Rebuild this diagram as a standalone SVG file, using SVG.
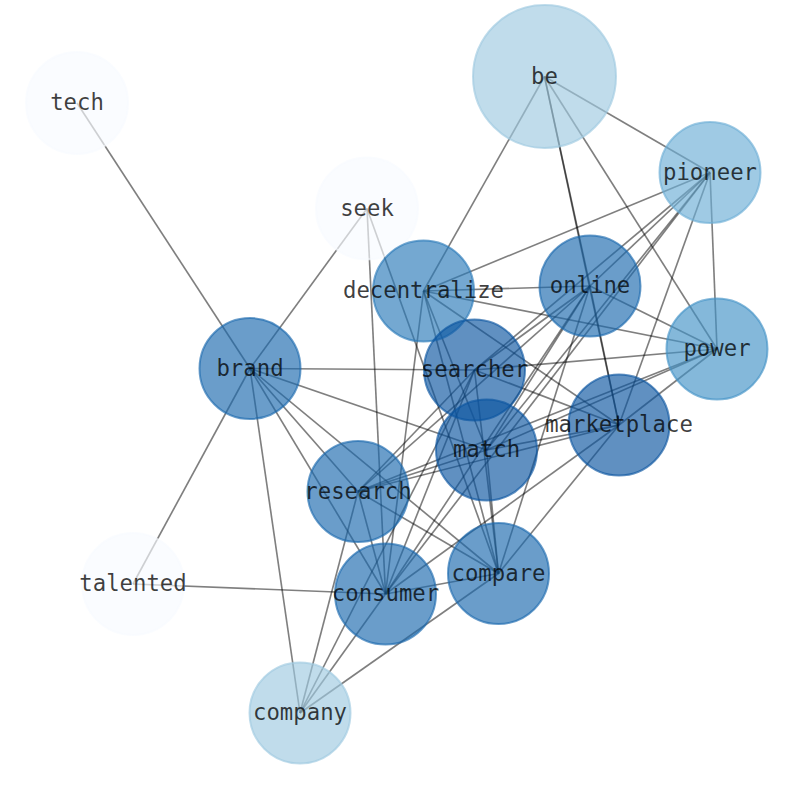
<svg xmlns="http://www.w3.org/2000/svg" width="794" height="790" viewBox="0 0 794 790">
<style>
.e line{stroke:#000;stroke-opacity:0.5;stroke-width:1.65}
.n circle{fill-opacity:0.65;stroke-opacity:0.65;stroke-width:2}
.n text{font-family:"DejaVu Sans Mono",monospace;font-size:22.3px;fill:#000;fill-opacity:0.75;text-anchor:middle}
.c0{fill:#f7fbff;stroke:#f7fbff}
.c1{fill:#9ecae1;stroke:#9ecae1}
.c2{fill:#6baed6;stroke:#6baed6}
.c3{fill:#4292c6;stroke:#4292c6}
.c4{fill:#2a7ab9;stroke:#2a7ab9}
.c5{fill:#1a68ae;stroke:#1a68ae}
.c6{fill:#0b559f;stroke:#0b559f}
</style>
<rect width="794" height="790" fill="#fff"/>
<g class="e" id="edges">
<line x1="77" y1="103" x2="250" y2="368.5"/>
<line x1="133" y1="584" x2="250" y2="368.5"/>
<line x1="133" y1="584" x2="385.5" y2="594"/>
<line x1="367" y1="208.5" x2="250" y2="368.5"/>
<line x1="367" y1="208.5" x2="385.5" y2="594"/>
<line x1="367" y1="208.5" x2="498.5" y2="573.5"/>
<line x1="544.5" y1="76.5" x2="423.5" y2="291"/>
<line x1="544.5" y1="76.5" x2="590" y2="286"/>
<line x1="544.5" y1="76.5" x2="619" y2="425"/>
<line x1="544.5" y1="76.5" x2="717" y2="349"/>
<line x1="544.5" y1="76.5" x2="710" y2="172.5"/>
<line x1="710" y1="172.5" x2="423.5" y2="291"/>
<line x1="710" y1="172.5" x2="590" y2="286"/>
<line x1="710" y1="172.5" x2="474.5" y2="370"/>
<line x1="710" y1="172.5" x2="486.5" y2="450"/>
<line x1="710" y1="172.5" x2="385.5" y2="594"/>
<line x1="710" y1="172.5" x2="619" y2="425"/>
<line x1="710" y1="172.5" x2="717" y2="349"/>
<line x1="250" y1="368.5" x2="474.5" y2="370"/>
<line x1="250" y1="368.5" x2="300" y2="713"/>
<line x1="250" y1="368.5" x2="358" y2="491.5"/>
<line x1="250" y1="368.5" x2="385.5" y2="594"/>
<line x1="250" y1="368.5" x2="498.5" y2="573.5"/>
<line x1="250" y1="368.5" x2="486.5" y2="450"/>
<line x1="423.5" y1="291" x2="590" y2="286"/>
<line x1="423.5" y1="291" x2="717" y2="349"/>
<line x1="423.5" y1="291" x2="619" y2="425"/>
<line x1="423.5" y1="291" x2="486.5" y2="450"/>
<line x1="423.5" y1="291" x2="498.5" y2="573.5"/>
<line x1="423.5" y1="291" x2="385.5" y2="594"/>
<line x1="590" y1="286" x2="717" y2="349"/>
<line x1="590" y1="286" x2="619" y2="425"/>
<line x1="590" y1="286" x2="474.5" y2="370"/>
<line x1="590" y1="286" x2="486.5" y2="450"/>
<line x1="590" y1="286" x2="358" y2="491.5"/>
<line x1="590" y1="286" x2="385.5" y2="594"/>
<line x1="590" y1="286" x2="498.5" y2="573.5"/>
<line x1="474.5" y1="370" x2="717" y2="349"/>
<line x1="474.5" y1="370" x2="619" y2="425"/>
<line x1="474.5" y1="370" x2="358" y2="491.5"/>
<line x1="474.5" y1="370" x2="385.5" y2="594"/>
<line x1="474.5" y1="370" x2="498.5" y2="573.5"/>
<line x1="474.5" y1="370" x2="300" y2="713"/>
<line x1="486.5" y1="450" x2="619" y2="425"/>
<line x1="486.5" y1="450" x2="358" y2="491.5"/>
<line x1="486.5" y1="450" x2="498.5" y2="573.5"/>
<line x1="619" y1="425" x2="358" y2="491.5"/>
<line x1="619" y1="425" x2="385.5" y2="594"/>
<line x1="619" y1="425" x2="498.5" y2="573.5"/>
<line x1="619" y1="425" x2="717" y2="349"/>
<line x1="717" y1="349" x2="486.5" y2="450"/>
<line x1="717" y1="349" x2="358" y2="491.5"/>
<line x1="358" y1="491.5" x2="498.5" y2="573.5"/>
<line x1="358" y1="491.5" x2="385.5" y2="594"/>
<line x1="300" y1="713" x2="358" y2="491.5"/>
<line x1="300" y1="713" x2="385.5" y2="594"/>
<line x1="300" y1="713" x2="498.5" y2="573.5"/>
<line x1="385.5" y1="594" x2="498.5" y2="573.5"/>
</g>
<g class="n" id="node-be"><circle class="c1" cx="544.5" cy="76.5" r="71.5"/><text x="544.5" y="83.8">be</text></g>
<g class="n" id="node-tech"><circle class="c0" cx="77" cy="103" r="51"/><text x="77" y="110.3">tech</text></g>
<g class="n" id="node-seek"><circle class="c0" cx="367" cy="208.5" r="51"/><text x="367" y="215.8">seek</text></g>
<g class="n" id="node-pioneer"><circle class="c2" cx="710" cy="172.5" r="50.5"/><text x="710" y="179.8">pioneer</text></g>
<g class="n" id="node-decentralize"><circle class="c4" cx="423.5" cy="291" r="50.5"/><text x="423.5" y="298.3">decentralize</text></g>
<g class="n" id="node-online"><circle class="c5" cx="590" cy="286" r="50.5"/><text x="590" y="293.3">online</text></g>
<g class="n" id="node-power"><circle class="c3" cx="717" cy="349" r="50.5"/><text x="717" y="356.3">power</text></g>
<g class="n" id="node-brand"><circle class="c5" cx="250" cy="368.5" r="50.5"/><text x="250" y="375.8">brand</text></g>
<g class="n" id="node-searcher"><circle class="c6" cx="474.5" cy="370" r="50.5"/><text x="474.5" y="377.3">searcher</text></g>
<g class="n" id="node-marketplace"><circle class="c6" cx="619" cy="425" r="50.5"/><text x="619" y="432.3">marketplace</text></g>
<g class="n" id="node-match"><circle class="c6" cx="486.5" cy="450" r="50.5"/><text x="486.5" y="457.3">match</text></g>
<g class="n" id="node-research"><circle class="c5" cx="358" cy="491.5" r="50.5"/><text x="358" y="498.8">research</text></g>
<g class="n" id="node-compare"><circle class="c5" cx="498.5" cy="573.5" r="50.5"/><text x="498.5" y="580.8">compare</text></g>
<g class="n" id="node-consumer"><circle class="c5" cx="385.5" cy="594" r="50.5"/><text x="385.5" y="601.3">consumer</text></g>
<g class="n" id="node-talented"><circle class="c0" cx="133" cy="584" r="51"/><text x="133" y="591.3">talented</text></g>
<g class="n" id="node-company"><circle class="c1" cx="300" cy="713" r="50.5"/><text x="300" y="720.3">company</text></g>
</svg>
